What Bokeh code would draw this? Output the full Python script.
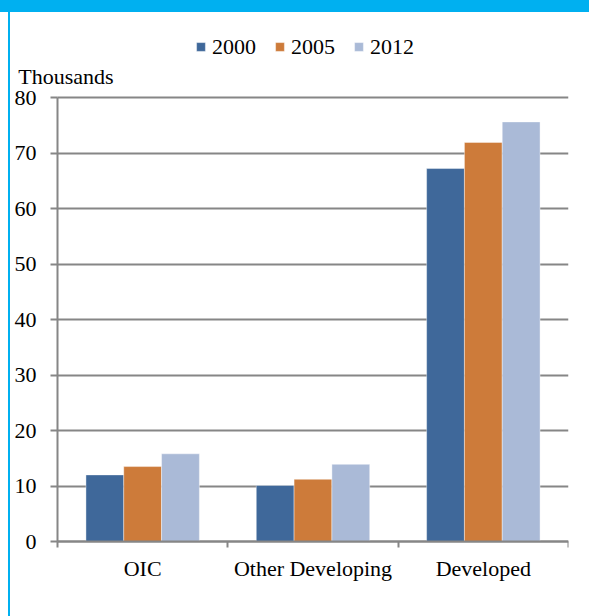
from bokeh.plotting import figure
from bokeh.models import (Range1d, FixedTicker, Legend, LegendItem, Label, ColumnDataSource)
from bokeh.transform import dodge
from bokeh.embed import file_html
from bokeh.resources import INLINE

# ---- data ----
categories = ["OIC", "Other Developing", "Developed"]
years = ["2000", "2005", "2012"]
v2000 = [12.0, 10.1, 67.2]
v2005 = [13.5, 11.2, 71.9]
v2012 = [15.8, 13.9, 75.6]
y_ticks = [0, 10, 20, 30, 40, 50, 60, 70, 80]
y_label = "Thousands"

colors = ["#3F689A", "#CD7B3A", "#AABAD7"]
FONT = "Liberation Serif"
GRAY = "#868686"
CYAN = "#00B0F0"

W, H = 589, 616
FRAME_RIGHT = 21           # px right of the plotting area
AXIS_TOP_PX = 97           # page y of the value 80
AXIS_BOTTOM_PX = 541       # page y of the value 0
AXIS_LEFT_PX = 57          # page x of the value axis
frame_w = W - FRAME_RIGHT
n = len(categories)
y_max = max(y_ticks)
# the plotting area covers the whole page; both axes are pinned at 0 so that
# the legend, the unit label and all tick labels stay inside it
units_per_px = y_max / (AXIS_BOTTOM_PX - AXIS_TOP_PX)
y_end = y_max + AXIS_TOP_PX * units_per_px
y_start = -(H - AXIS_BOTTOM_PX) * units_per_px
x_start = -AXIS_LEFT_PX * n / (frame_w - AXIS_LEFT_PX)

centers = [i + 0.5 for i in range(n)]
source = ColumnDataSource(dict(x=centers, cat=categories,
                               y2000=v2000, y2005=v2005, y2012=v2012))

p = figure(width=W, height=H, x_range=Range1d(x_start, n), y_range=Range1d(y_start, y_end),
           output_backend="svg", toolbar_location=None,
           min_border_left=0, min_border_right=FRAME_RIGHT, min_border_top=0,
           min_border_bottom=0)
p.outline_line_color = None
p.background_fill_color = None
p.border_fill_color = None
p.styles = {"background": (f"linear-gradient({CYAN},{CYAN}) 0 0 / 100% 12px no-repeat, "
                           f"linear-gradient({CYAN},{CYAN}) 8px 0 / 2px 100% no-repeat, white")}

bw = 0.222
renderers = []
for i, (yr, col) in enumerate(zip(years, colors)):
    r = p.vbar(x=dodge("x", (i - 1) * bw, range=p.x_range), top="y" + yr, bottom=0,
               width=bw, source=source, fill_color=col, line_color="white",
               line_width=0.8, line_alpha=0.5)
    renderers.append(r)

# axes
p.xaxis.ticker = FixedTicker(ticks=centers, minor_ticks=list(range(n + 1)))
p.xaxis.fixed_location = 0
p.xaxis.bounds = (0, n)
p.xaxis.major_label_overrides = {c: lab for c, lab in zip(centers, categories)}
p.xaxis.major_tick_out = 0
p.xaxis.major_tick_in = 0
p.xaxis.minor_tick_out = 6
p.xaxis.minor_tick_in = 0
p.xaxis.minor_tick_line_color = GRAY
p.xaxis.minor_tick_line_width = 2
p.xaxis.axis_line_color = GRAY
p.xaxis.axis_line_width = 2
p.xaxis.major_label_standoff = 8
p.xaxis.major_label_text_font = FONT
p.xaxis.major_label_text_font_size = "22px"
p.xaxis.major_label_text_color = "black"

p.yaxis.ticker = FixedTicker(ticks=y_ticks)
p.yaxis.fixed_location = 0
p.yaxis.bounds = (0, y_max)
p.yaxis.major_tick_out = 7
p.yaxis.major_tick_in = 0
p.yaxis.minor_tick_line_color = None
p.yaxis.major_tick_line_color = GRAY
p.yaxis.major_tick_line_width = 2
p.yaxis.axis_line_color = GRAY
p.yaxis.axis_line_width = 2
p.yaxis.major_label_standoff = 14
p.yaxis.major_label_text_font = FONT
p.yaxis.major_label_text_font_size = "22px"
p.yaxis.major_label_text_color = "black"

p.xgrid.visible = False
p.ygrid.grid_line_color = GRAY
p.ygrid.grid_line_width = 2
try:
    p.ygrid.bounds = (0, y_max)
    p.ygrid.cross_bounds = (0, n)
except Exception:
    pass

# legend
legend = Legend(items=[LegendItem(label=yr, renderers=[r]) for yr, r in zip(years, renderers)],
                orientation="horizontal", location=(195, H - 59.5),
                glyph_width=11, glyph_height=11, label_standoff=6, spacing=18,
                padding=0, margin=0, border_line_color=None, background_fill_alpha=0,
                label_text_font=FONT, label_text_font_size="22px",
                label_text_color="black")
p.add_layout(legend)

# unit label
p.add_layout(Label(x=17.7, y=H - 75.7, x_units="screen", y_units="screen", text=y_label,
                   text_font=FONT, text_font_size="22px", text_color="black",
                   text_baseline="alphabetic"))

open("out.html", "w").write(file_html(p, INLINE))
